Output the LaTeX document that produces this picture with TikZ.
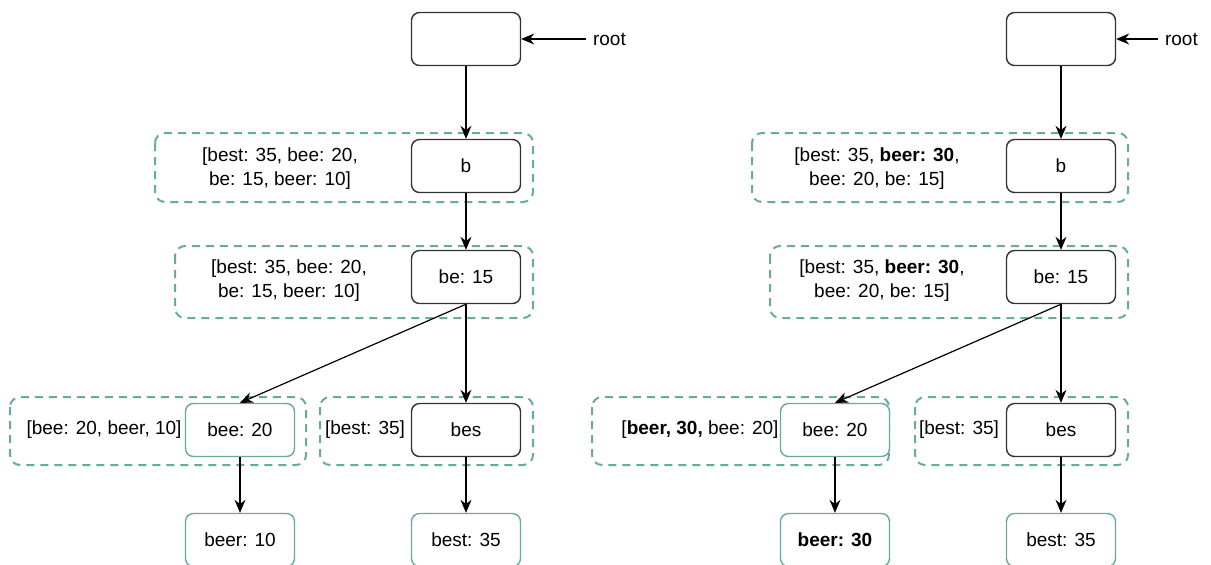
\documentclass[tikz,border=0pt]{standalone}
\usepackage{fontspec}
\setmainfont{Liberation Sans}
\usetikzlibrary{arrows.meta}

\begin{document}
\begin{tikzpicture}[x=0.5pt,y=-0.5pt,font=\fontsize{9.5}{12}\selectfont]
\definecolor{trieEdge}{HTML}{333333}
\definecolor{trieCache}{HTML}{67AB9F}
\tikzset{
  trienode/.style={draw=trieEdge,fill=white,line width=0.7pt,rounded corners=4pt,
    minimum width=54.5pt,minimum height=26.5pt,inner sep=0pt},
  leafnode/.style={trienode,draw=trieCache},
  cachebox/.style={draw=trieCache,line width=1pt,dash pattern=on 4pt off 3pt,rounded corners=5pt},
  link/.style={-{Stealth[length=6.5pt,width=5.5pt]},line width=0.6pt}
}
\useasboundingbox (0,0) rectangle (1211,564);
% cached top-k lists
\draw[cachebox] (155,133) rectangle (533,202);
\draw[cachebox] (175,246) rectangle (533,318);
\draw[cachebox] (10,397) rectangle (306,465);
\draw[cachebox] (320,397) rectangle (533,465);
\draw[cachebox] (752,133) rectangle (1128,202);
\draw[cachebox] (770,246) rectangle (1128,318);
\draw[cachebox] (592,397) rectangle (889,465);
\draw[cachebox] (915,397) rectangle (1128,465);
\node[align=center] (listbL) at (280,169) {[best: 35, bee: 20,\\ be: 15, beer: 10]};
\node[align=center] (listbeL) at (289,281) {[best: 35, bee: 20,\\ be: 15, beer: 10]};
\node (listbeeL) at (104,430) {[bee: 20, beer, 10]};
\node (listbesL) at (365,430) {[best: 35]};
\node[align=center] (listbR) at (877,169) {[best: 35, \textbf{beer: 30},\\ bee: 20, be: 15]};
\node[align=center] (listbeR) at (882,281) {[best: 35, \textbf{beer: 30},\\ bee: 20, be: 15]};
\node (listbeeR) at (700,430) {[\textbf{beer, 30,} bee: 20]};
\node (listbesR) at (959,430) {[best: 35]};
% the two tries
\foreach \dx/\t/\lx/\leaf in {0/L/586/{beer: 10},595/R/1158/{\textbf{beer: 30}}} {
  \node[trienode] (root\t) at (466+\dx,39) {};
  \node[anchor=west] (rootlab\t) at (\lx,39) {root};
  \node[trienode] (b\t) at (466+\dx,166) {b};
  \node[trienode] (be\t) at (466+\dx,277) {be: 15};
  \node[leafnode] (bee\t) at (240+\dx,430) {bee: 20};
  \node[trienode] (bes\t) at (466+\dx,430) {bes};
  \node[leafnode] (beer\t) at (240+\dx,540) {\leaf};
  \node[leafnode] (best\t) at (466+\dx,540) {best: 35};
  \draw[link] (rootlab\t.west) -- (root\t.east);
  \draw[link] (root\t) -- (b\t);
  \draw[link] (b\t) -- (be\t);
  \draw[link] (be\t.south) -- (bee\t.north);
  \draw[link] (be\t) -- (bes\t);
  \draw[link] (bee\t) -- (beer\t);
  \draw[link] (bes\t) -- (best\t);
}
\end{tikzpicture}
\end{document}
